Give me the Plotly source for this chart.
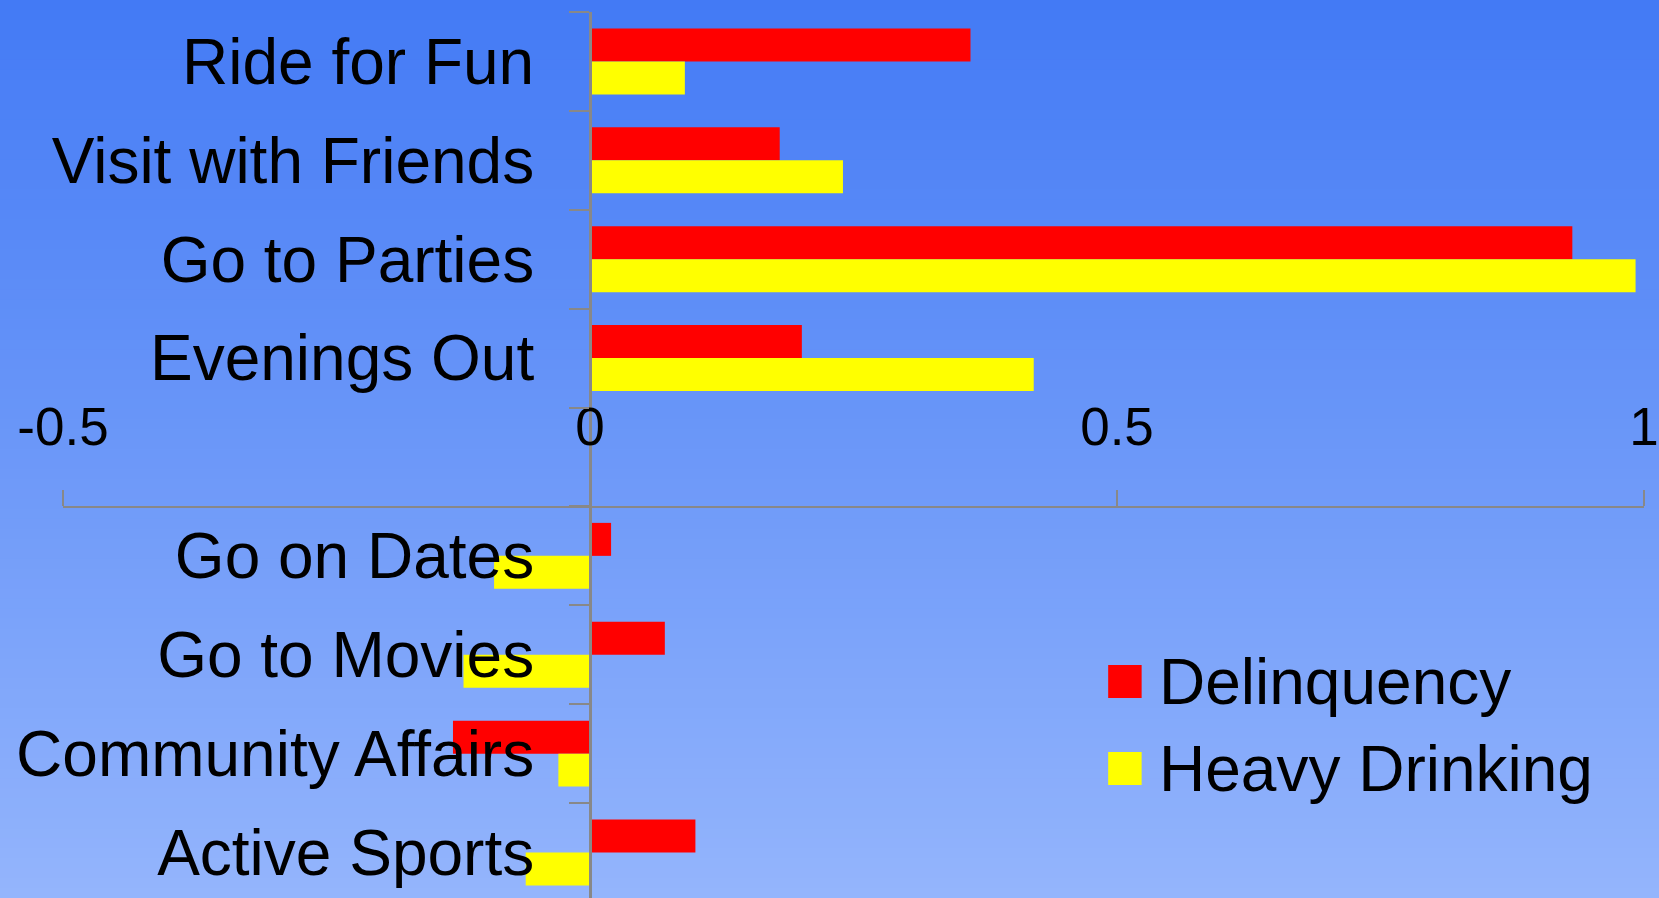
import plotly.graph_objects as go

# ---- data ----
categories = ["Ride for Fun", "Visit with Friends", "Go to Parties", "Evenings Out", " ",
              "Go on Dates", "Go to Movies", "Community Affairs", "Active Sports"]
delinquency = [0.361, 0.180, 0.932, 0.201, None, 0.020, 0.071, -0.130, 0.100]
heavy_drinking = [0.090, 0.240, 0.992, 0.421, None, -0.091, -0.120, -0.030, -0.061]
series_names = ["Delinquency", "Heavy Drinking"]
series_colors = ["#FF0000", "#FFFF00"]
x_tickvals = [-0.5, 0, 0.5, 1]
x_ticktext = ["-0.5", "0", "0.5", "1"]

FONT = "Liberation Sans, Arial, sans-serif"
W, H = 1659, 898
ML, MR, MT, MB = 63, 13, 12, 0
PW, PH = W - ML - MR, H - MT - MB

def px_x(p):
    return (p - ML) / PW

def px_y(p):
    return (H - MB - p) / PH

fig = go.Figure()
for name, vals, col in zip(series_names, [delinquency, heavy_drinking], series_colors):
    fig.add_trace(go.Bar(y=categories, x=vals, orientation="h", name=name,
                         marker=dict(color=col, line=dict(width=0)), showlegend=False))

# background gradient (vertical)
shapes = []
top_c = (67, 122, 245)
bot_c = (148, 181, 252)
N = 90
for i in range(N):
    t = (i + 0.5) / N
    c = tuple(round(top_c[k] + (bot_c[k] - top_c[k]) * t) for k in range(3))
    y0 = H * i / N
    y1 = H * (i + 1) / N + 1
    shapes.append(dict(type="rect", xref="paper", yref="paper",
                       x0=px_x(-5), x1=px_x(W + 5), y0=px_y(y1), y1=px_y(y0),
                       fillcolor="rgb(%d,%d,%d)" % c, line=dict(width=0), layer="below"))

# manual legend
annotations = []
leg_rows = [681.5, 768.5]
for name, col, yc in zip(series_names, series_colors, leg_rows):
    shapes.append(dict(type="rect", xref="paper", yref="paper",
                       x0=px_x(1109.5), x1=px_x(1143), y0=px_y(yc + 16.5), y1=px_y(yc - 16.5),
                       fillcolor=col, line=dict(width=0), layer="above"))
    annotations.append(dict(text=name, xref="paper", yref="paper", x=px_x(1158), y=px_y(yc),
                            xanchor="left", yanchor="middle", showarrow=False,
                            font=dict(family=FONT, size=64, color="black")))

fig.update_layout(
    width=W, height=H,
    margin=dict(l=ML, r=MR, t=MT, b=MB, pad=0),
    paper_bgcolor="rgb(107,151,248)",
    plot_bgcolor="rgba(0,0,0,0)",
    barmode="group", bargap=0.333, bargroupgap=0,
    shapes=shapes, annotations=annotations,
    font=dict(family=FONT, color="black"),
    xaxis=dict(range=[-0.5, 1], tickvals=x_tickvals, ticktext=x_ticktext,
               anchor="free", position=px_y(506.7), side="top",
               ticks="outside", ticklen=16, tickwidth=2, tickcolor="#888888",
               showline=True, linecolor="#888888", linewidth=2,
               showgrid=False, zeroline=False,
               tickfont=dict(family=FONT, size=53, color="black"),
               ticklabelstandoff=24, ticklabeloverflow="allow"),
    yaxis=dict(type="category", categoryorder="array", categoryarray=categories,
               range=[8.46, -0.5], anchor="free", position=px_x(590.4),
               ticks="outside", ticklen=20, tickwidth=2, tickcolor="#888888",
               tickson="boundaries",
               showline=True, linecolor="#888888", linewidth=2.5,
               showgrid=False, zeroline=False,
               tickfont=dict(family=FONT, size=64, color="black"),
               ticklabelstandoff=42),
)

fig.write_html("out.html", config={"displayModeBar": False},
               post_script="document.body.style.margin='0';")
